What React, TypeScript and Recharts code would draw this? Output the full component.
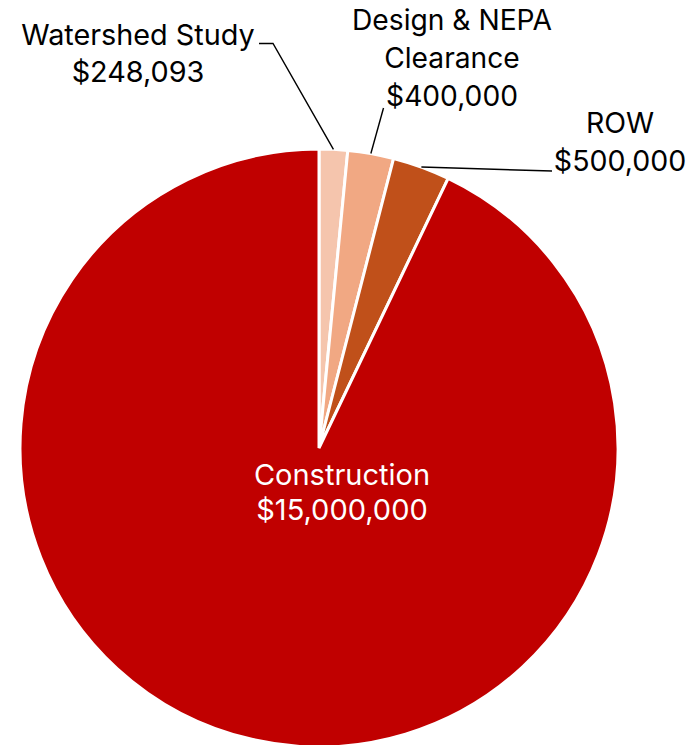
import React from 'react';
import { PieChart, Pie, Cell } from 'recharts';

const categories = ['Watershed Study', 'Design & NEPA Clearance', 'ROW', 'Construction'];
const amounts = [248093, 400000, 500000, 15000000];
const colors = ['#F5C5AD', '#F1A883', '#C0501A', '#C00000'];
const labelLines = [['Watershed Study'], ['Design & NEPA', 'Clearance'], ['ROW'], ['Construction']];

const data = categories.map((name, i) => ({ name, value: amounts[i], idx: i }));

const LABEL_LAYOUT: any[] = [
  { x: 138, y: 45, lh: 37, pts: [[273, 43.5], [259, 43.5]], color: '#000', fs: 28.8 },
  { x: 452, y: 30, lh: 38, pts: [[383.5, 108]], color: '#000', fs: 28.2 },
  { x: 620, y: 133, lh: 37.5, pts: [[552, 171]], color: '#000', fs: 28.5 },
  { x: 342, y: 485, lh: 35, pts: null, color: '#fff', fs: 29 },
];

const RAD = Math.PI / 180;
const fmt = (v: number) => '$' + v.toLocaleString('en-US');

const renderLabel = (props: any) => {
  const { cx, cy, midAngle, outerRadius } = props;
  const i = props.payload && props.payload.idx !== undefined ? props.payload.idx : props.index;
  const L = LABEL_LAYOUT[i];
  const lines = [...labelLines[i], fmt(amounts[i])];
  let path: string | null = null;
  if (L.pts) {
    const sx = cx + outerRadius * Math.cos(-midAngle * RAD);
    const sy = cy + outerRadius * Math.sin(-midAngle * RAD);
    path = `M${sx},${sy}` + L.pts.map((p: number[]) => ` L${p[0]},${p[1]}`).join('');
  }
  return (
    <g key={'lbl' + i}>
      {path && <path d={path} stroke="#000" strokeWidth={1.4} fill="none" />}
      <text
        x={L.x}
        y={L.y}
        textAnchor="middle"
        fill={L.color}
        style={{ fontFamily: 'Inter, sans-serif', fontSize: L.fs }}
      >
        {lines.map((t, k) => (
          <tspan key={k} x={L.x} y={L.y + k * L.lh}>
            {t}
          </tspan>
        ))}
      </text>
    </g>
  );
};

export default function App() {
  return (
    <div style={{ position: 'absolute', left: 0, top: 0, width: 697, height: 745, background: '#fff' }}>
      <PieChart width={697} height={745} margin={{ top: 0, right: 0, bottom: 0, left: 0 }}>
        <Pie
          data={data}
          dataKey="value"
          nameKey="name"
          cx={319}
          cy={448}
          outerRadius={299}
          startAngle={90}
          endAngle={-270}
          stroke="#fff"
          strokeWidth={3}
          label={renderLabel}
          labelLine={false}
          isAnimationActive={false}
        >
          {data.map((d, i) => (
            <Cell key={i} fill={colors[i]} />
          ))}
        </Pie>
      </PieChart>
    </div>
  );
}
